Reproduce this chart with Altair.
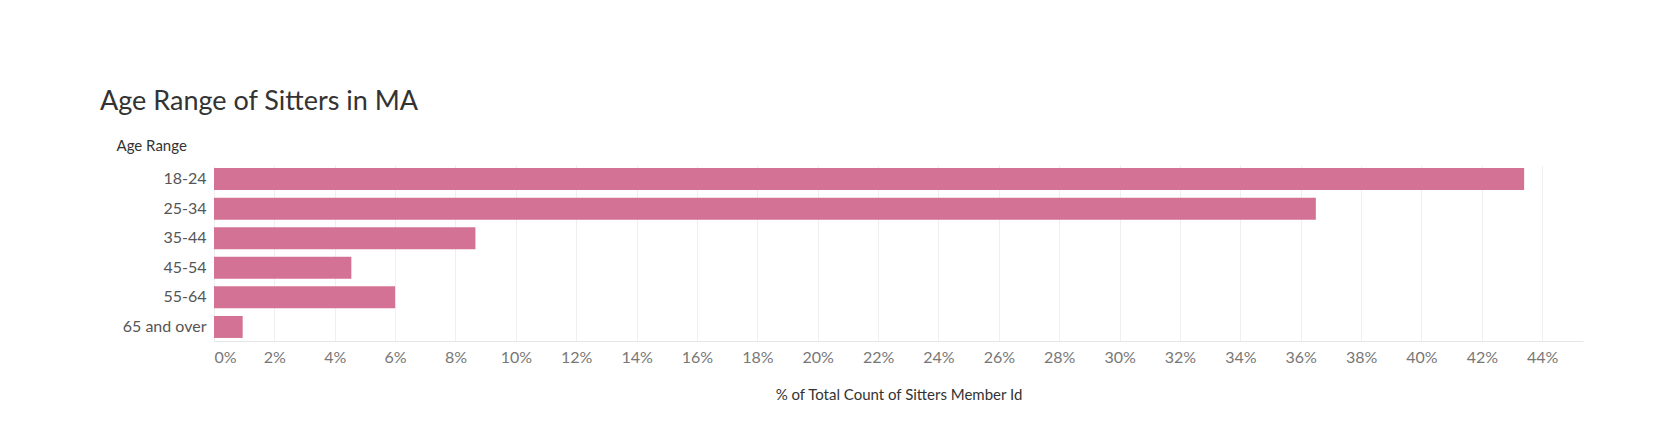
import altair as alt
import pandas as pd

ages = ["18-24", "25-34", "35-44", "45-54", "55-64", "65 and over"]
pct = [0.434, 0.365, 0.0866, 0.0455, 0.060, 0.0095]
ticks = [i / 100 for i in range(0, 46, 2)]

df = pd.DataFrame({"Age Range": ages, "Pct": pct})

bars = alt.Chart(df).mark_bar(color="#D37295", size=22).encode(
    x=alt.X(
        "Pct:Q",
        title="% of Total Count of Sitters Member Id",
        scale=alt.Scale(domain=[0, 0.4535], nice=False),
        axis=alt.Axis(
            format=".0%", values=ticks, grid=True, gridColor="#EFEFEF",
            domainColor="#E6E6E6", ticks=False, labelColor="#777777",
            labelFontSize=16, labelPadding=8, titleFontSize=15,
            titleColor="#333333", titleFontWeight="normal", titlePadding=22,
        ),
    ),
    y=alt.Y(
        "Age Range:N",
        sort=ages,
        title="Age Range",
        scale=alt.Scale(paddingInner=0.25, paddingOuter=0.1),
        axis=alt.Axis(
            ticks=False, domain=False, labelColor="#555555", labelFontSize=16,
            labelPadding=8, titleAngle=0, titleAlign="left", titleX=-98,
            titleY=-12, titleFontSize=15, titleFontWeight="normal",
            titleColor="#333333",
        ),
    ),
)

chart = bars.properties(
    width=1369,
    height=176,
    title=alt.TitleParams(
        "Age Range of Sitters in MA", anchor="start", frame="bounds",
        fontSize=27, fontWeight="normal", color="#333333", offset=22, dx=-16,
    ),
    padding={"left": 92, "top": 80, "right": 20, "bottom": 10},
).configure(font="Lato").configure_view(stroke=None, strokeWidth=0)

chart.save("out.html", embed_options={"renderer": "svg", "actions": False})
